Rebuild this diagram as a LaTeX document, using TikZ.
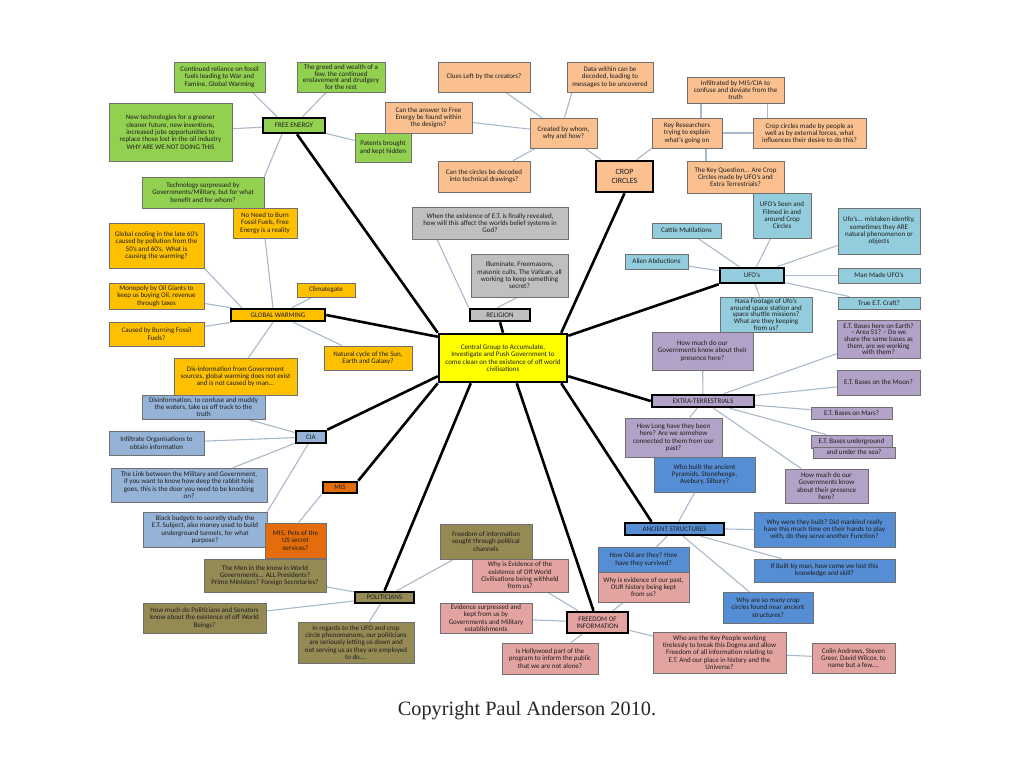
\documentclass[tikz,border=0pt]{standalone}
\usepackage{fontspec}
\setmainfont{Carlito}
\newfontfamily\cpyfont{Liberation Serif}
\pgfdeclarelayer{bg}
\pgfsetlayers{bg,main}
\definecolor{cgreen}{HTML}{92D050}
\definecolor{cpeach}{HTML}{FAC090}
\definecolor{cufo}{HTML}{93CDDD}
\definecolor{cgrey}{HTML}{BFBFBF}
\definecolor{cgw}{HTML}{FFC000}
\definecolor{cet}{HTML}{B3A2C7}
\definecolor{cas}{HTML}{558ED5}
\definecolor{cfoi}{HTML}{E3A3A1}
\definecolor{ccia}{HTML}{95B3D7}
\definecolor{cmi}{HTML}{E46C0A}
\definecolor{cpol}{HTML}{948A54}
\definecolor{ccen}{HTML}{FFFF00}
\definecolor{lnk}{HTML}{A9B9CB}
\definecolor{bgr}{HTML}{707070}
\definecolor{txt}{HTML}{1E1E1E}
\newcommand\fs{\fontsize{7}{7.3}\selectfont}
\newcommand\fst{\fontsize{7}{6.7}\selectfont}
\newcommand\bx[7]{\node[#2, minimum width={(#5)-(#3)}, minimum height={(#6)-(#4)}] (#1) at ({((#3)+(#5))/2},{((#4)+(#6))/2}) {#7};}
\begin{document}
\begin{tikzpicture}[x=1pt,y=-1pt,
  box/.style={draw=bgr, line width=0.7pt, inner sep=0.8pt, align=center, font=\fs, text=txt},
  tightbox/.style={box, font=\fst},
  hub/.style={draw=black, line width=2.5pt, inner sep=0.8pt, align=center, font=\fs, text=txt},
  lk/.style={draw=lnk, line width=1.1pt},
  hk/.style={draw=black, line width=2.6pt}]
\useasboundingbox (0,0) rectangle (1024,767);
% ---------- FREE ENERGY
\bx{fe1}{box,fill=cgreen}{174}{62}{265}{92}{Continued reliance on fossil\\fuels leading to War and\\Famine, Global Warming}
\bx{fe2}{tightbox,fill=cgreen}{297}{62}{385}{92}{The greed and wealth of a\\few, the continued\\enslavement and drudgery\\for the rest}
\bx{fe3}{box,fill=cgreen}{109}{103}{232}{161}{New technologies for a greener\\cleaner future, new inventions,\\increased jobs opportunities to\\replace those lost in the oil industry\\WHY ARE WE NOT DOING THIS}
\bx{FE}{hub,fill=cgreen}{263}{118}{325}{133}{FREE ENERGY}
\bx{fe4}{box,fill=cgreen}{355}{133}{411}{162}{Patents brought\\and kept hidden}
\bx{fe5}{box,fill=cgreen}{142}{177}{264}{208}{Technology surpressed by\\Governments/Military, but for what\\benefit and for whom?}
% ---------- CROP CIRCLES
\bx{cc1}{box,fill=cpeach}{438}{62}{530}{92}{Clues Left by the creators?}
\bx{cc2}{box,fill=cpeach}{567}{62}{653}{92}{Data within can be\\decoded, leading to\\messages to be uncovered}
\bx{cc3}{box,fill=cpeach}{385}{102}{472}{133}{Can the answer to Free\\Energy be found within\\the designs?}
\bx{cc4}{box,fill=cpeach}{530}{118}{597}{148}{Created by whom,\\why and how?}
\bx{cc5}{box,fill=cpeach}{438}{161}{530}{192}{Can the circles be decoded\\into technical drawings?}
\bx{CC}{hub,fill=cpeach,font=\fontsize{8}{9.5}\selectfont}{596}{161}{653}{192}{CROP\\CIRCLES}
\bx{cc6}{box,fill=cpeach}{687}{77}{784}{103}{Infiltrated by MI5/CIA to\\confuse and deviate from the\\truth}
\bx{cc7}{box,fill=cpeach}{652}{118}{722}{148}{Key Researchers\\trying to explain\\what's going on}
\bx{cc8}{box,fill=cpeach}{753}{118}{866}{148}{Crop circles made by people as\\well as by external forces, what\\influences their desire to do this?}
\bx{cc9}{box,fill=cpeach}{687}{161}{784}{193}{The Key Question... Are Crop\\Circles made by UFO's and\\Extra Terrestrials?}
% ---------- UFO
\bx{uf1}{box,fill=cufo}{753}{193}{811}{238}{UFO's Seen and\\Filmed in and\\around Crop\\Circles}
\bx{uf2}{box,fill=cufo}{652}{223}{721}{238}{Cattle Mutilations}
\bx{uf3}{box,fill=cufo}{838}{208}{920}{254}{Ufo's... mistaken identity,\\sometimes they ARE\\natural phenomenon or\\objects}
\bx{uf4}{box,fill=cufo}{625}{254}{688}{269}{Alien Abductions}
\bx{UF}{hub,fill=cufo}{720}{268}{784}{283}{UFO's}
\bx{uf5}{box,fill=cufo}{838}{268}{920}{283}{Man Made UFO's}
\bx{uf6}{box,fill=cufo}{838}{297}{920}{309}{True E.T. Craft?}
\bx{uf7}{tightbox,fill=cufo}{720}{297}{812}{332}{Nasa Footage of Ufo's\\around space station and\\space shuttle missions?\\What are they keeping\\from us?}
% ---------- RELIGION + CENTRAL
\bx{re1}{box,fill=cgrey}{412}{207}{568}{239}{When the existence of E.T. is finally revealed,\\how will this affect the worlds belief systems in\\God?}
\bx{re2}{box,fill=cgrey}{471}{254}{568}{297}{Illuminate, Freemasons,\\masonic cults, The Vatican, all\\working to keep something\\secret?}
\bx{RE}{hub,fill=cgrey}{470}{309}{530}{321}{RELIGION}
\bx{central}{hub,fill=ccen}{439}{334}{567}{382}{Central Group to Accumulate,\\Investigate and Push Government to\\come clean on the existence of off world\\civilisations}
% ---------- GLOBAL WARMING
\bx{gw0}{box,fill=cgw}{233}{208}{297}{238}{No Need to Burn\\Fossil Fuels, Free\\Energy is a reality}
\bx{gw1}{box,fill=cgw}{109}{223}{204}{268}{Global cooling in the late 60's\\caused by pollution from the\\50's and 60's. What is\\causing the warming?}
\bx{gw2}{box,fill=cgw}{109}{283}{204}{309}{Monopoly by Oil Giants to\\keep us buying Oil, revenue\\through taxes}
\bx{gw3}{box,fill=cgw}{109}{322}{204}{346}{Caused by Burning Fossil\\Fuels?}
\bx{gw4}{box,fill=cgw}{297}{283}{355}{297}{Climategate}
\bx{GW}{hub,fill=cgw}{231}{309}{325}{321}{GLOBAL WARMING}
\bx{gw5}{box,fill=cgw}{324}{346}{412}{370}{Natural cycle of the Sun,\\Earth and Galaxy?}
\bx{gw6}{box,fill=cgw}{174}{358}{297}{395}{Dis-information from Government\\sources, global warming does not exist\\and is not caused by man...}
% ---------- EXTRA-TERRESTRIALS
\bx{et1}{box,fill=cet}{652}{332}{753}{370}{How much do our\\Governments know about their\\presence here?}
\bx{ET}{hub,fill=cet}{652}{395}{754}{407}{EXTRA-TERRESTRIALS}
\bx{et2}{tightbox,fill=cet}{837}{320}{920}{358}{E.T. Bases here on Earth?\\-- Area 51? -- Do we\\share the same bases as\\them, are we working\\with them?}
\bx{et3}{box,fill=cet}{837}{370}{920}{395}{E.T. Bases on the Moon?}
\bx{et4}{box,fill=cet}{811}{407}{892}{419}{E.T. Bases on Mars?}
\bx{et5}{box,fill=cet}{811}{435}{892}{448}{E.T. Bases underground}
\bx{et5b}{box,fill=cet}{813}{447}{895}{458}{and under the sea?}
\bx{et6}{box,fill=cet}{625}{418}{722}{457}{How Long have they been\\here? Are we somehow\\connected to them from our\\past?}
\bx{et7}{box,fill=cet}{785}{469}{868}{503}{How much do our\\Governments know\\about their presence\\here?}
% ---------- ANCIENT STRUCTURES
\bx{as1}{box,fill=cas}{654}{457}{755}{492}{Who built the ancient\\Pyramids, Stonehenge,\\Avebury, Silbury?}
\bx{AS}{hub,fill=cas}{625}{523}{724}{535}{ANCIENT STRUCTURES}
\bx{as2}{box,fill=cas}{754}{512}{895}{547}{Why were they built? Did mankind really\\have this much time on their hands to play\\with, do they serve another Function?}
\bx{as3}{box,fill=cas}{754}{559}{895}{582}{If Built by man, how come we lost this\\knowledge and skill?}
\bx{as4}{box,fill=cas}{723}{592}{813}{623}{Why are so many crop\\circles found near ancient\\structures?}
\bx{as5}{box,fill=cas}{598}{547}{689}{572}{How Old are they? How\\have they survived?}
% ---------- POLITICIANS (sought box first, so pink boxes lie above)
\bx{po4}{box,fill=cpol}{440}{524}{532}{559}{Freedom of information\\sought through political\\channels}
% ---------- FREEDOM OF INFORMATION
\bx{fo0}{box,fill=cfoi}{598}{572}{689}{602}{Why is evidence of our past,\\OUR history being kept\\from us?}
\bx{fo1}{box,fill=cfoi}{472}{559}{568}{592}{Why is Evidence of the\\existence of Off World\\Civilisations being withheld\\from us?}
\bx{fo2}{box,fill=cfoi}{440}{603}{532}{633}{Evidence surpressed and\\kept from us by\\Governments and Military\\establishments}
\bx{FO}{hub,fill=cfoi}{567}{612}{628}{633}{FREEDOM OF\\INFORMATION}
\bx{fo3}{box,fill=cfoi}{502}{643}{598}{674}{Is Hollywood part of the\\program to inform the public\\that we are not alone?}
\bx{fo4}{box,fill=cfoi}{653}{632}{786}{673}{Who are the Key People working\\tirelessly to break this Dogma and allow\\Freedom of all information relating to\\E.T. And our place in history and the\\Universe?}
\bx{fo5}{box,fill=cfoi}{812}{643}{895}{673}{Colin Andrews, Steven\\Greer, David Wilcox, to\\name but a few....}
% ---------- CIA
\bx{ci1}{box,fill=ccia}{142}{395}{265}{419}{Disinformation, to confuse and muddy\\the waters, take us off track to the\\truth}
\bx{CI}{hub,fill=ccia}{296}{431}{326}{443}{CIA}
\bx{ci2}{box,fill=ccia}{109}{431}{204}{455}{Infiltrate Organisations to\\obtain information}
\bx{ci3}{box,fill=ccia}{111}{468}{267}{502}{The Link between the Military and Government,\\if you want to know how deep the rabbit hole\\goes, this is the door you need to be knocking\\on?}
\bx{ci4}{box,fill=ccia}{143}{512}{267}{547}{Black budgets to secretly study the\\E.T. Subject, also money used to build\\underground tunnels, for what\\purpose?}
% ---------- MI5
\bx{MI}{hub,fill=cmi}{323}{482}{357}{493}{MI5}
\bx{mi1}{box,fill=cmi}{265}{523}{326}{558}{MI5, Pets of the\\US secret\\services?}
% ---------- POLITICIANS
\bx{po1}{box,fill=cpol}{204}{559}{326}{592}{The Men in the know in World\\Governments... ALL Presidents?\\Prime Ministers? Foreign Secretaries?}
\bx{PO}{hub,fill=cpol}{355}{592}{414}{603}{POLITICIANS}
\bx{po2}{box,fill=cpol}{143}{603}{266}{633}{How much do Politicians and Senators\\know about the existence of off World\\Beings?}
\bx{po3}{box,fill=cpol}{298}{622}{414}{663}{In regards to the UFO and crop\\circle phenomenons, our politicians\\are seriously letting us down and\\not serving us as they are employed\\to do....}
% ---------- copyright
\node[font=\cpyfont\fontsize{20.3}{22}\selectfont, text=black!85] (cr) at (527,711) {Copyright Paul Anderson 2010.};
% ---------- connectors
\begin{pgfonlayer}{bg}
\fill[white] (0,0) rectangle (1024,767);
% thin links
\draw[lk] ([xshift=33pt]fe1.south) -- ([xshift=-17pt]FE.north);
\draw[lk] (fe2) -- (FE);
\draw[lk] (fe3) -- (FE);
\draw[lk] (fe4) -- (FE);
\draw[lk] (fe5.north east) -- ([xshift=-12pt]FE.south);
\draw[lk] (cc1) -- (cc4);
\draw[lk] ([xshift=-38pt]cc2.south) -- ([xshift=1pt]cc4.north);
\draw[lk] (cc3) -- (cc4);
\draw[lk] (cc5) -- (cc4);
\draw[lk] (cc4) -- (CC);
\draw[lk] (cc7.south west) -- ([xshift=12pt]CC.north);
\coordinate (k1) at ([xshift=14pt]cc7.north);
\draw[lk] (k1) -- (k1 |- cc6.south);
\coordinate (k2) at ([xshift=-42pt]cc8.north);
\draw[lk] (k2) -- (k2 |- cc6.south);
\draw[lk] (cc7.east) -- (cc8.west);
\coordinate (k3) at ([xshift=19pt]cc7.south);
\draw[lk] (k3) -- (k3 |- cc9.north);
\draw[lk] (uf1) -- (UF);
\draw[lk] (uf2) -- (UF);
\draw[lk] (uf3) -- (UF);
\draw[lk] (uf4) -- (UF);
\draw[lk] (uf5) -- (UF);
\draw[lk] (uf6) -- (UF);
\draw[lk] (UF) -- (uf7);
\draw[lk] ([xshift=-53pt]re1.south) -- (RE.north west);
\draw[lk] ([xshift=-2pt]re2.south) -- ([xshift=-3pt]RE.north);
\draw[lk] (gw0.south) -- ([xshift=-5pt]GW.north);
\draw[lk] (gw1.south east) -- ([xshift=12pt]GW.north west);
\draw[lk] (gw2) -- (GW);
\draw[lk] (gw3) -- (GW);
\draw[lk] (gw4) -- (GW);
\draw[lk] (gw5) -- (GW);
\draw[lk] (gw6) -- (GW);
\draw[lk] (et1) -- (ET);
\draw[lk] (et2) -- (ET);
\draw[lk] (et3) -- (ET);
\draw[lk] (et4) -- (ET);
\draw[lk] (et5) -- (ET);
\draw[lk] (et6) -- (ET);
\draw[lk] (et7) -- (ET);
\draw[lk] (as1) -- (AS);
\draw[lk] (as5) -- (AS);
\draw[lk] (AS.east) -- (as2.west);
\draw[lk] (as3) -- (AS);
\draw[lk] (as4) -- (AS);
\draw[lk] (fo0) -- (FO);
\draw[lk] (fo1) -- (FO);
\draw[lk] (fo2) -- (FO);
\draw[lk] (fo3) -- (FO);
\draw[lk] (fo4) -- (FO);
\draw[lk] (fo5) -- (fo4);
\draw[lk] (ci1) -- (CI);
\draw[lk] (ci2) -- (CI);
\draw[lk] (ci3) -- (CI);
\draw[lk] (ci4.north east) -- ([xshift=-3pt]CI.south);
\draw[lk] ([xshift=3pt]mi1.north) -- (MI.south west);
\draw[lk] (po1) -- (PO);
\draw[lk] (po2) -- (PO);
\draw[lk] (po3) -- (PO);
\draw[lk] (po4) -- (PO);
% thick links
\draw[hk] ([xshift=3pt]FE.south) -- (central.north west);
\draw[hk] (GW.east) -- ([yshift=-4pt]central.north west);
\draw[hk] (CI.north east) -- ([yshift=7pt]central.south west);
\draw[hk] (MI.north east) -- (central.south west);
\draw[hk] (PO.north) -- ([xshift=33pt]central.south west);
\draw[hk] ([xshift=-4pt]FO.north) -- ([xshift=79pt]central.south west);
\draw[hk] ([xshift=-23pt]AS.north) -- ([xshift=-7pt]central.south east);
\draw[hk] (ET.west) -- ([yshift=7pt]central.south east);
\draw[hk] (UF.south west) -- ([yshift=-3pt]central.north east);
\draw[hk] (CC.south) -- ([xshift=-7pt]central.north east);
\draw[hk] (RE.south) -- (central.north);
\end{pgfonlayer}
\end{tikzpicture}
\end{document}
